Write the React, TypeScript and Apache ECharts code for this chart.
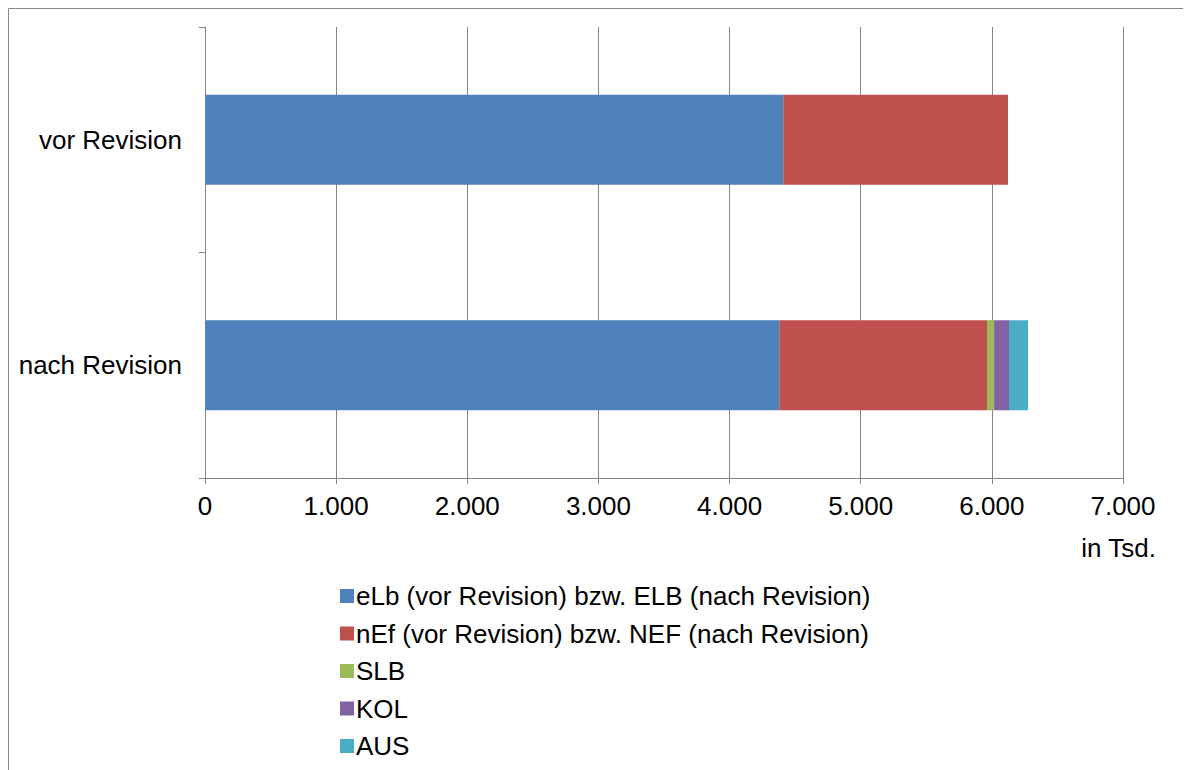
import React, { useEffect, useRef } from "react";
import * as echarts from "echarts";

const categories = ["vor Revision", "nach Revision"];
const seriesNames = [
  "eLb (vor Revision) bzw. ELB (nach Revision)",
  "nEf (vor Revision) bzw. NEF (nach Revision)",
  "SLB",
  "KOL",
  "AUS",
];
const elbValues = [4410, 4379];
const nefValues = [1713, 1584];
const slbValues = [0, 54];
const kolValues = [0, 114];
const ausValues = [0, 145];
const seriesColors = ["#4F81BD", "#C0504D", "#9BBB59", "#8064A2", "#4BACC6"];
const axisMin = 0;
const axisMax = 7000;
const axisInterval = 1000;
const unitLabel = "in Tsd.";

const FONT = '"Liberation Sans", Arial, sans-serif';
const FS = 26;

function fmt(v: number): string {
  return String(Math.round(v)).replace(/\B(?=(\d{3})+(?!\d))/g, ".");
}

export default function App() {
  const ref = useRef<HTMLDivElement>(null);
  useEffect(() => {
    if (!ref.current) return;
    const chart = echarts.init(ref.current, undefined, { renderer: "svg" });
    const values = [elbValues, nefValues, slbValues, kolValues, ausValues];
    chart.setOption({
      animation: false,
      textStyle: { fontFamily: FONT },
      grid: { left: 197, right: 68, top: 19, height: 451, containLabel: false },
      legend: {
        orient: "vertical",
        left: 327,
        top: 570,
        itemWidth: 14,
        itemHeight: 14,
        itemGap: 11.5,
        icon: "rect",
        data: seriesNames,
        textStyle: { fontFamily: FONT, fontSize: FS, color: "#000", lineHeight: 26, padding: [0, 0, 0, -3] },
      },
      xAxis: {
        type: "value",
        min: axisMin,
        max: axisMax,
        interval: axisInterval,
        axisLine: { show: true, lineStyle: { color: "#868686", width: 1 } },
        axisTick: { show: true, length: 6, lineStyle: { color: "#868686" } },
        splitLine: { show: true, lineStyle: { color: "#868686", width: 1 } },
        axisLabel: {
          margin: 15,
          fontSize: FS,
          color: "#000",
          fontFamily: FONT,
          formatter: (v: number) => fmt(v),
        },
      },
      yAxis: {
        type: "category",
        inverse: true,
        data: categories,
        axisLine: { show: true, lineStyle: { color: "#868686", width: 1 } },
        axisTick: { show: true, length: 6, alignWithLabel: false, lineStyle: { color: "#868686" } },
        axisLabel: { margin: 23, fontSize: FS, color: "#000", fontFamily: FONT },
      },
      series: seriesNames.map((name, i) => ({
        name,
        type: "bar",
        stack: "total",
        barWidth: "40%",
        data: values[i],
        itemStyle: { color: seriesColors[i] },
      })),
      graphic: [
        {
          type: "rect",
          shape: { x: 0.5, y: 0.5, width: 1400, height: 1000 },
          style: { fill: "none", stroke: "#888888", lineWidth: 1 },
          silent: true,
        },
        {
          type: "text",
          x: 1148,
          y: 540,
          style: {
            text: unitLabel,
            font: `${FS}px ${FONT}`,
            fill: "#000",
            textAlign: "right",
            textVerticalAlign: "middle",
          },
        },
      ],
    });
    return () => chart.dispose();
  }, []);
  return <div ref={ref} style={{ width: 1183, height: 762 }} />;
}
